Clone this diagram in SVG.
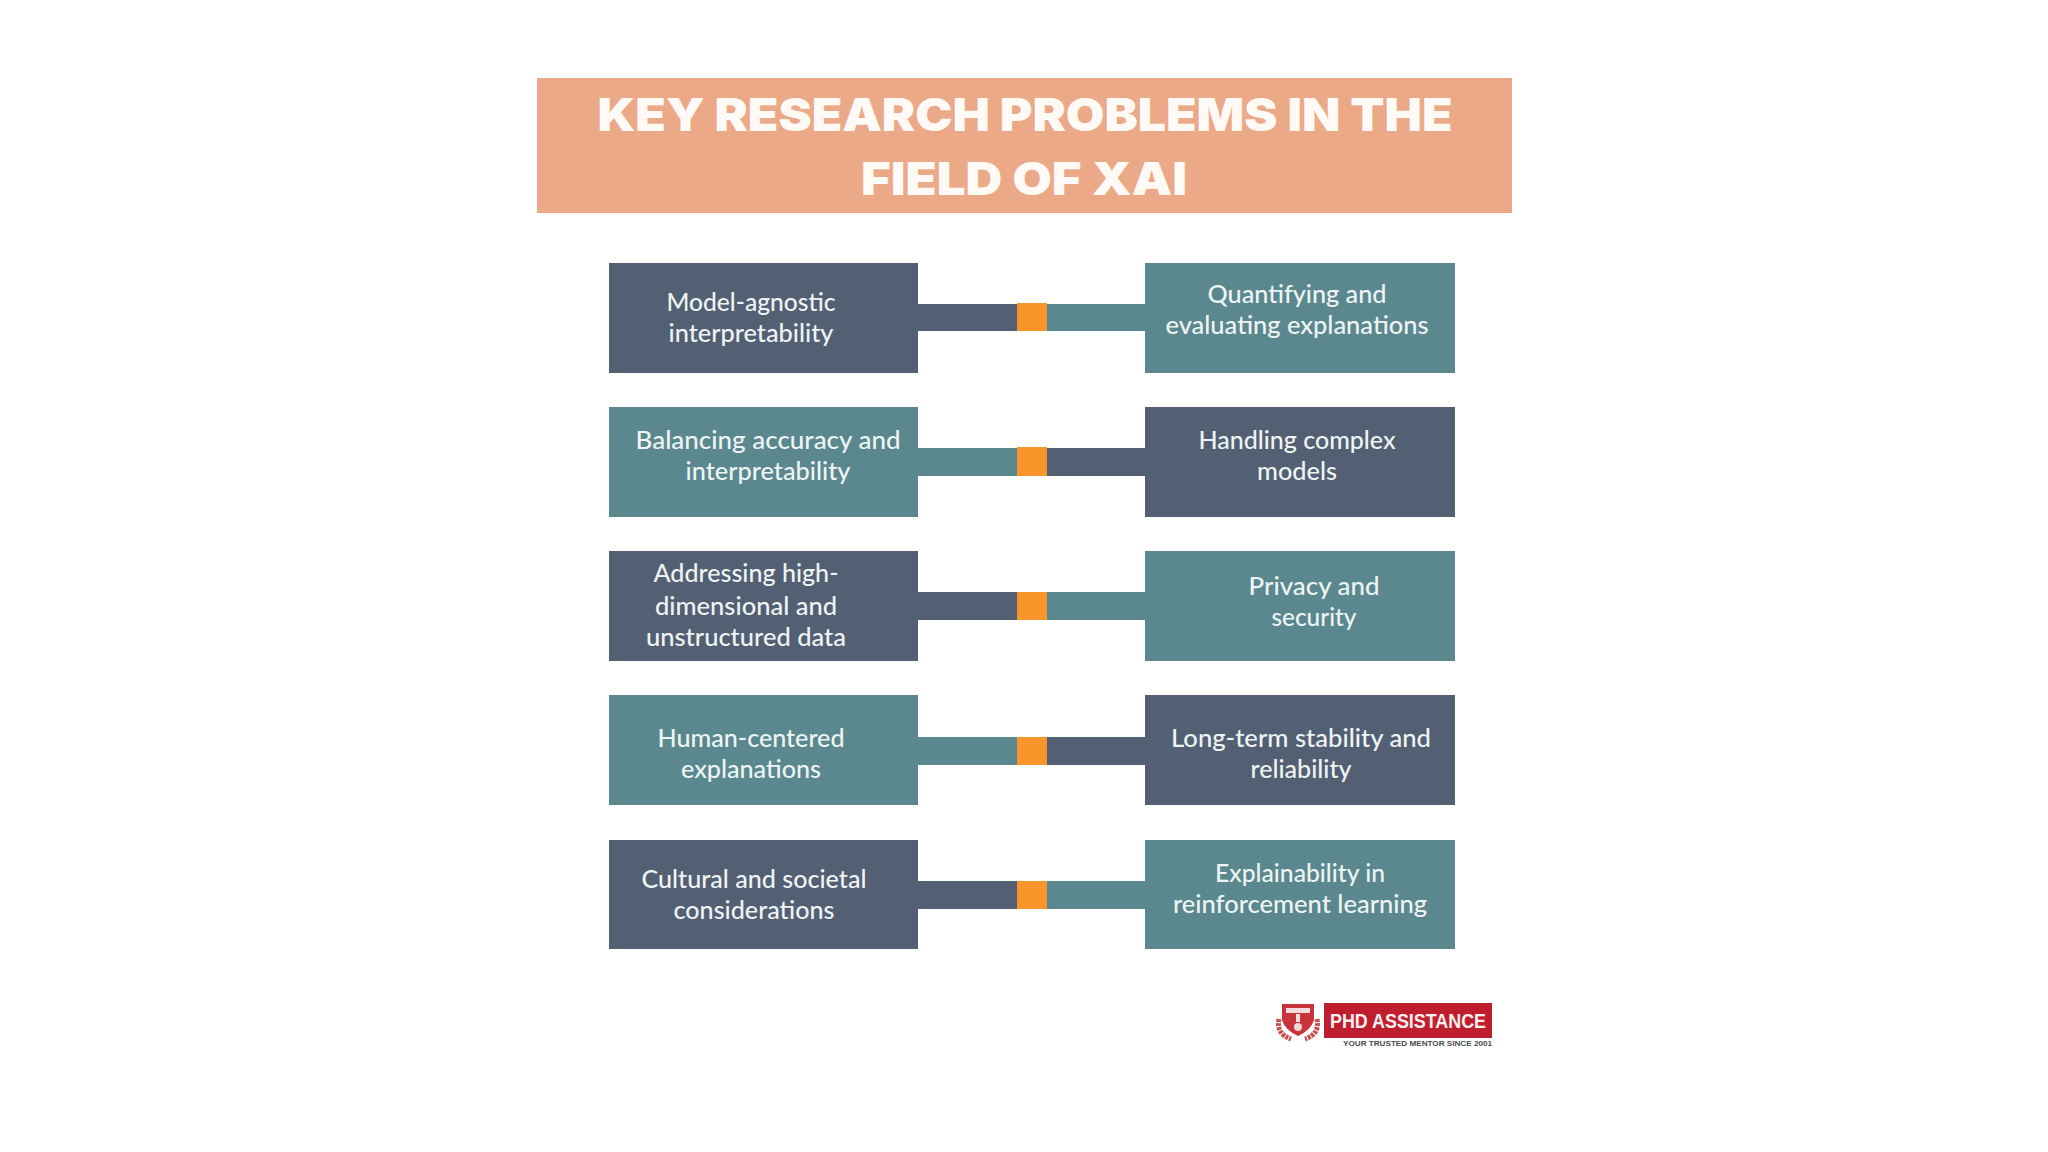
<svg xmlns="http://www.w3.org/2000/svg" width="2048" height="1152" viewBox="0 0 2048 1152">
<style>
.dark{fill:#535f73}.teal{fill:#5a888e}.orange{fill:#f8962b}
.t{font-family:"Lato","Noto Sans",sans-serif;font-size:25px;font-weight:500;fill:#eef4f3;text-anchor:middle}
.title{font-family:"Inter","Liberation Sans",sans-serif;font-size:45px;font-weight:900;fill:#fffaf5;text-anchor:middle}
</style>
<rect width="2048" height="1152" fill="#ffffff"/>
<g id="title">
<rect x="537" y="78" width="975" height="135" fill="#eba988"/>
<text class="title" x="1025" y="131" textLength="855" lengthAdjust="spacingAndGlyphs">KEY RESEARCH PROBLEMS IN THE</text>
<text class="title" x="1024" y="195" textLength="326" lengthAdjust="spacingAndGlyphs">FIELD OF XAI</text>
</g>
<g id="connectors">
<rect class="dark" x="918" y="304" width="100" height="27"/><rect class="teal" x="1046" y="304" width="100" height="27"/><rect class="orange" x="1017" y="303" width="30" height="28"/>
<rect class="teal" x="918" y="448" width="100" height="28"/><rect class="dark" x="1046" y="448" width="100" height="28"/><rect class="orange" x="1017" y="447" width="30" height="29"/>
<rect class="dark" x="918" y="592" width="100" height="28"/><rect class="teal" x="1046" y="592" width="100" height="28"/><rect class="orange" x="1017" y="592" width="30" height="28"/>
<rect class="teal" x="918" y="737" width="100" height="28"/><rect class="dark" x="1046" y="737" width="100" height="28"/><rect class="orange" x="1017" y="737" width="30" height="28"/>
<rect class="dark" x="918" y="881" width="100" height="28"/><rect class="teal" x="1046" y="881" width="100" height="28"/><rect class="orange" x="1017" y="881" width="30" height="28"/>
</g>
<g id="node-model-agnostic"><rect class="dark" x="609" y="263" width="309" height="110"/>
<text class="t" x="751" y="311" textLength="169" lengthAdjust="spacingAndGlyphs">Model-agnostic</text>
<text class="t" x="751" y="342" textLength="165" lengthAdjust="spacingAndGlyphs">interpretability</text></g>
<g id="node-quantifying"><rect class="teal" x="1145" y="263" width="310" height="110"/>
<text class="t" x="1297" y="303" textLength="179" lengthAdjust="spacingAndGlyphs">Quantifying and</text>
<text class="t" x="1297" y="334" textLength="263" lengthAdjust="spacingAndGlyphs">evaluating explanations</text></g>
<g id="node-balancing"><rect class="teal" x="609" y="407" width="309" height="110"/>
<text class="t" x="768" y="449" textLength="265" lengthAdjust="spacingAndGlyphs">Balancing accuracy and</text>
<text class="t" x="768" y="480" textLength="165" lengthAdjust="spacingAndGlyphs">interpretability</text></g>
<g id="node-complex"><rect class="dark" x="1145" y="407" width="310" height="110"/>
<text class="t" x="1297" y="449" textLength="197" lengthAdjust="spacingAndGlyphs">Handling complex</text>
<text class="t" x="1297" y="480" textLength="80" lengthAdjust="spacingAndGlyphs">models</text></g>
<g id="node-high-dimensional"><rect class="dark" x="609" y="551" width="309" height="110"/>
<text class="t" x="746" y="582" textLength="185" lengthAdjust="spacingAndGlyphs">Addressing high-</text>
<text class="t" x="746" y="615" textLength="182" lengthAdjust="spacingAndGlyphs">dimensional and</text>
<text class="t" x="746" y="646" textLength="200" lengthAdjust="spacingAndGlyphs">unstructured data</text></g>
<g id="node-privacy"><rect class="teal" x="1145" y="551" width="310" height="110"/>
<text class="t" x="1314" y="595" textLength="131" lengthAdjust="spacingAndGlyphs">Privacy and</text>
<text class="t" x="1314" y="626" textLength="85" lengthAdjust="spacingAndGlyphs">security</text></g>
<g id="node-human"><rect class="teal" x="609" y="695" width="309" height="110"/>
<text class="t" x="751" y="747" textLength="187" lengthAdjust="spacingAndGlyphs">Human-centered</text>
<text class="t" x="751" y="778" textLength="140" lengthAdjust="spacingAndGlyphs">explanations</text></g>
<g id="node-stability"><rect class="dark" x="1145" y="695" width="310" height="110"/>
<text class="t" x="1301" y="747" textLength="260" lengthAdjust="spacingAndGlyphs">Long-term stability and</text>
<text class="t" x="1301" y="778" textLength="101" lengthAdjust="spacingAndGlyphs">reliability</text></g>
<g id="node-cultural"><rect class="dark" x="609" y="840" width="309" height="109"/>
<text class="t" x="754" y="888" textLength="225" lengthAdjust="spacingAndGlyphs">Cultural and societal</text>
<text class="t" x="754" y="919" textLength="161" lengthAdjust="spacingAndGlyphs">considerations</text></g>
<g id="node-reinforcement"><rect class="teal" x="1145" y="840" width="310" height="109"/>
<text class="t" x="1300" y="882" textLength="170" lengthAdjust="spacingAndGlyphs">Explainability in</text>
<text class="t" x="1300" y="913" textLength="254" lengthAdjust="spacingAndGlyphs">reinforcement learning</text></g>
<g id="logo">
<path d="M1282 1004H1314V1020Q1311 1030 1298 1036Q1285 1030 1282 1020Z" fill="#c7343c"/>
<rect x="1286" y="1008" width="24" height="5" fill="#f6dcdc"/>
<path d="M1296 1014h4v8h-4z" fill="#f6dcdc"/>
<circle cx="1298" cy="1027" r="4" fill="#f1d5d5"/>
<path d="M1279 1019Q1276 1034 1291 1039" fill="none" stroke="#c8504f" stroke-width="5" stroke-dasharray="3 1"/>
<path d="M1317 1019Q1320 1034 1305 1039" fill="none" stroke="#c8504f" stroke-width="5" stroke-dasharray="3 1"/>
<rect x="1324" y="1003" width="168" height="35" fill="#bf1e2e"/>
<text x="1330" y="1028" textLength="156" lengthAdjust="spacingAndGlyphs" font-family="Liberation Sans, sans-serif" font-weight="700" font-size="21" fill="#fbeeee">PHD ASSISTANCE</text>
<text x="1343" y="1046" textLength="149" lengthAdjust="spacingAndGlyphs" font-family="Liberation Sans, sans-serif" font-weight="700" font-size="7" fill="#4a4a50">YOUR TRUSTED MENTOR SINCE 2001</text>
</g>
</svg>
